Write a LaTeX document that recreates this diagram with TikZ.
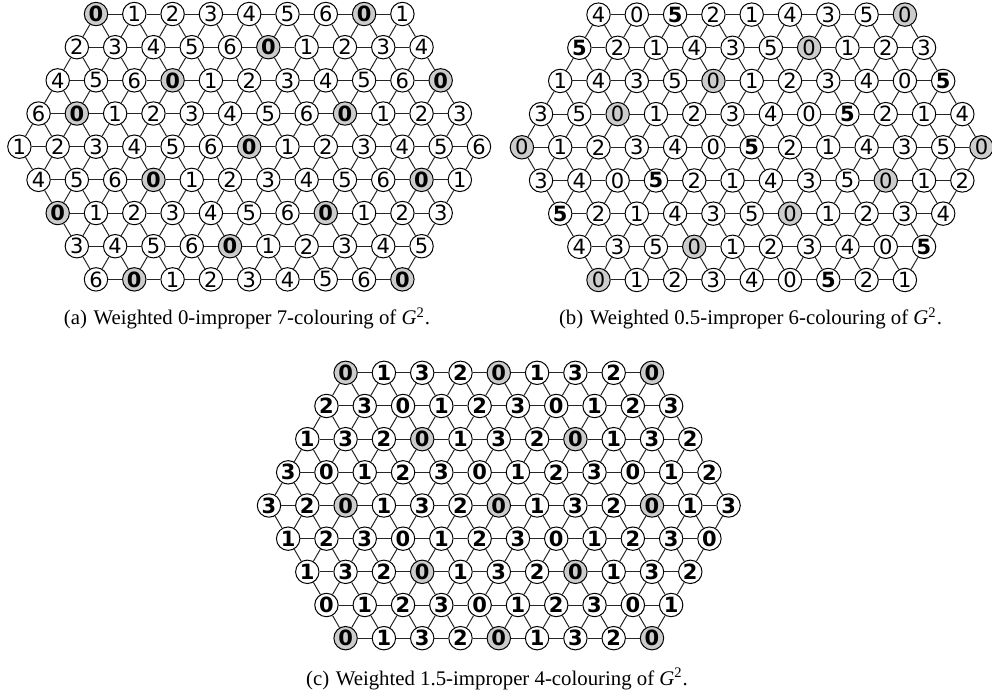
\documentclass[tikz,border=0pt]{standalone}
\usepackage{fontspec}
\setmainfont{Liberation Serif}
\newfontfamily\lblfont{DejaVu Sans}
\tikzset{
  vtx/.style={circle, draw=black, line width=0.5pt, fill=white, minimum size=11.7pt, inner sep=0pt,
    font=\lblfont\fontsize{10.5}{12}\selectfont},
  vn/.style={vtx},
  vb/.style={vtx, font=\lblfont\fontsize{10.5}{12}\selectfont\bfseries},
  vB/.style={vb},
  vg/.style={vtx, fill=black!20},
  vG/.style={vb, fill=black!20},
  lnk/.style={draw=black!85, line width=0.5pt},
  captxt/.style={anchor=base, inner sep=0pt, font=\fontsize{10.4}{12}\selectfont}
}
\newcommand\hexg[3]{%
  \begin{scope}[shift={#2}]
  \foreach \rowl [count=\ri from 0] in {#3} {
    \pgfmathtruncatemacro\nn{13-abs(\ri-4)}
    \foreach \s/\v [count=\ki from 0] in \rowl {
      \node[v\s] (#1-\ri-\ki) at ({(\ki-(\nn-1)/2)*38.3}, {(\ri-4)*33.17}) {\v};
    }
  }
  \foreach \ri in {0,...,8} {
    \pgfmathtruncatemacro\mm{11-abs(\ri-4)}
    \foreach \ki in {0,...,\mm} {
      \pgfmathtruncatemacro\kk{\ki+1}
      \draw[lnk] (#1-\ri-\ki) -- (#1-\ri-\kk);
    }
  }
  \foreach \ri in {0,...,3} {
    \pgfmathtruncatemacro\mm{8+\ri}
    \pgfmathtruncatemacro\rr{\ri+1}
    \foreach \ki in {0,...,\mm} {
      \pgfmathtruncatemacro\kk{\ki+1}
      \draw[lnk] (#1-\ri-\ki) -- (#1-\rr-\ki);
      \draw[lnk] (#1-\ri-\ki) -- (#1-\rr-\kk);
    }
  }
  \foreach \ri in {4,...,7} {
    \pgfmathtruncatemacro\mm{15-\ri}
    \pgfmathtruncatemacro\rr{\ri+1}
    \foreach \ki in {0,...,\mm} {
      \pgfmathtruncatemacro\kk{\ki+1}
      \draw[lnk] (#1-\ri-\ki) -- (#1-\rr-\ki);
      \draw[lnk] (#1-\ri-\kk) -- (#1-\rr-\ki);
    }
  }
  \end{scope}
}
\begin{document}
\begin{tikzpicture}[x=0.5pt, y=-0.5pt]
\useasboundingbox (0,0) rectangle (992,695);
\hexg{a}{(249.2,146.7)}{
 {G/0,n/1,n/2,n/3,n/4,n/5,n/6,G/0,n/1},
 {n/2,n/3,n/4,n/5,n/6,G/0,n/1,n/2,n/3,n/4},
 {n/4,n/5,n/6,G/0,n/1,n/2,n/3,n/4,n/5,n/6,G/0},
 {n/6,G/0,n/1,n/2,n/3,n/4,n/5,n/6,G/0,n/1,n/2,n/3},
 {n/1,n/2,n/3,n/4,n/5,n/6,G/0,n/1,n/2,n/3,n/4,n/5,n/6},
 {n/4,n/5,n/6,G/0,n/1,n/2,n/3,n/4,n/5,n/6,G/0,n/1},
 {G/0,n/1,n/2,n/3,n/4,n/5,n/6,G/0,n/1,n/2,n/3},
 {n/3,n/4,n/5,n/6,G/0,n/1,n/2,n/3,n/4,n/5},
 {n/6,G/0,n/1,n/2,n/3,n/4,n/5,n/6,G/0}}
\hexg{b}{(751.7,147.3)}{
 {n/4,n/0,b/5,n/2,n/1,n/4,n/3,n/5,g/0},
 {b/5,n/2,n/1,n/4,n/3,n/5,g/0,n/1,n/2,n/3},
 {n/1,n/4,n/3,n/5,g/0,n/1,n/2,n/3,n/4,n/0,b/5},
 {n/3,n/5,g/0,n/1,n/2,n/3,n/4,n/0,b/5,n/2,n/1,n/4},
 {g/0,n/1,n/2,n/3,n/4,n/0,b/5,n/2,n/1,n/4,n/3,n/5,g/0},
 {n/3,n/4,n/0,b/5,n/2,n/1,n/4,n/3,n/5,g/0,n/1,n/2},
 {b/5,n/2,n/1,n/4,n/3,n/5,g/0,n/1,n/2,n/3,n/4},
 {n/4,n/3,n/5,g/0,n/1,n/2,n/3,n/4,n/0,b/5},
 {g/0,n/1,n/2,n/3,n/4,n/0,b/5,n/2,n/1}}
\hexg{c}{(498.8,505.5)}{
 {G/0,B/1,B/3,B/2,G/0,B/1,B/3,B/2,G/0},
 {B/2,B/3,B/0,B/1,B/2,B/3,B/0,B/1,B/2,B/3},
 {B/1,B/3,B/2,G/0,B/1,B/3,B/2,G/0,B/1,B/3,B/2},
 {B/3,B/0,B/1,B/2,B/3,B/0,B/1,B/2,B/3,B/0,B/1,B/2},
 {B/3,B/2,G/0,B/1,B/3,B/2,G/0,B/1,B/3,B/2,G/0,B/1,B/3},
 {B/1,B/2,B/3,B/0,B/1,B/2,B/3,B/0,B/1,B/2,B/3,B/0},
 {B/1,B/3,B/2,G/0,B/1,B/3,B/2,G/0,B/1,B/3,B/2},
 {B/0,B/1,B/2,B/3,B/0,B/1,B/2,B/3,B/0,B/1},
 {G/0,B/1,B/3,B/2,G/0,B/1,B/3,B/2,G/0}}
\node[captxt] (capa) at (247,324.5) {(a)\hskip0.32em Weighted 0-improper 7-colouring of {\itshape G}\textsuperscript{2}.};
\node[captxt] (capb) at (750.5,324.5) {(b)\hskip0.32em Weighted 0.5-improper 6-colouring of {\itshape G}\textsuperscript{2}.};
\node[captxt] (capc) at (497,685) {(c)\hskip0.32em Weighted 1.5-improper 4-colouring of {\itshape G}\textsuperscript{2}.};
\end{tikzpicture}
\end{document}
